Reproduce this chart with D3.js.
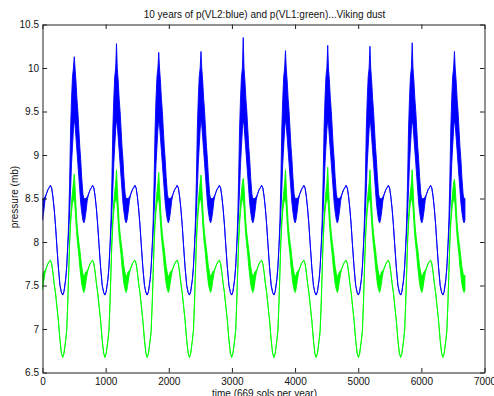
<!DOCTYPE html>
<html>
<head>
<meta charset="utf-8">
<script src="https://cdn.jsdelivr.net/npm/d3@7"></script>
<style>
  body { margin: 0; background: #fff; }
  svg { display: block; }
  text { font-family: "Liberation Sans", Arial, sans-serif; }
</style>
</head>
<body>
<svg id="chart" width="494" height="396"></svg>
<script>
// sols per Mars year and number of years plotted
const solsPerYear = 669
const nYears = 10

const phase = [0, 20, 40, 60, 85, 110, 125, 145, 165, 185, 205, 225, 251, 277, 300, 320, 340, 367, 383,
  400, 415, 430, 445, 460, 475, 490, 503, 515, 530, 545, 560, 575, 590, 605, 620, 640, 655]

// VL2 (blue): lower / upper edge of the trace (they differ where the daily noise makes it thick)
const blueLo = [8.25, 8.35, 8.48, 8.55, 8.6, 8.63, 8.65, 8.62, 8.52, 8.38, 8.2, 7.98, 7.71, 7.5, 7.42, 7.39, 7.43, 7.57, 7.71,
  7.95, 8.12, 8.35, 8.6, 8.9, 9.1, 9.3, 9.4, 9.35, 9.2, 9.05, 8.9, 8.75, 8.6, 8.45, 8.35, 8.25, 8.22]
const blueHi = [8.5, 8.5, 8.52, 8.55, 8.6, 8.63, 8.65, 8.62, 8.52, 8.38, 8.2, 7.98, 7.71, 7.5, 7.42, 7.39, 7.43, 7.57, 7.71,
  7.95, 8.25, 8.7, 9.3, 9.65, 9.9, 10.0, 10.1, 10.0, 9.85, 9.65, 9.5, 9.3, 9.1, 8.95, 8.75, 8.55, 8.5]

// VL1 (green)
const greenLo = [7.45, 7.55, 7.64, 7.7, 7.75, 7.78, 7.79, 7.75, 7.65, 7.52, 7.42, 7.28, 7.1, 6.87, 6.72, 6.675, 6.72, 6.87, 6.98,
  7.3, 7.65, 7.98, 8.2, 8.35, 8.45, 8.48, 8.5, 8.4, 8.22, 8.06, 7.95, 7.85, 7.72, 7.62, 7.52, 7.45, 7.42]
const greenHi = [7.62, 7.66, 7.67, 7.7, 7.75, 7.78, 7.79, 7.75, 7.65, 7.52, 7.42, 7.28, 7.1, 6.87, 6.72, 6.675, 6.72, 6.87, 6.98,
  7.3, 7.65, 8.04, 8.28, 8.46, 8.58, 8.68, 8.78, 8.64, 8.42, 8.22, 8.1, 8.0, 7.92, 7.82, 7.72, 7.64, 7.6]

// dust-season peak of each year
const peakIndex = 26
const bluePeak = [10.13, 10.28, 10.18, 10.19, 10.35, 10.2, 10.26, 10.25, 10.29, 10.19]
const greenPeak = [8.78, 8.83, 8.8, 8.77, 8.73, 8.83, 8.86, 8.83, 8.83, 8.72]

// axis ticks
const xTicks = [0, 1000, 2000, 3000, 4000, 5000, 6000, 7000]
const yTicks = [6.5, 7, 7.5, 8, 8.5, 9, 9.5, 10, 10.5]

const plotL = 42.5, plotR = 484.5, plotT = 24.5, plotB = 372.5

let svg = d3.select('#chart')
let x = d3.scaleLinear().domain([0, 7000]).range([plotL, plotR])
let y = d3.scaleLinear().domain([6.5, 10.5]).range([plotB, plotT])

function buildSeries (lo, hi, peaks) {
  let pts = []
  for (let yr = 0; yr < nYears; yr++) {
    phase.forEach((s, k) => {
      pts.push({
        t: yr * solsPerYear + s,
        lo: lo[k],
        hi: k === peakIndex ? peaks[yr] : hi[k]
      })
    })
  }
  // last sample closes the tenth year
  pts.push({ t: nYears * solsPerYear, lo: lo[0], hi: hi[0] })
  return pts
}

let blue = buildSeries(blueLo, blueHi, bluePeak)
let green = buildSeries(greenLo, greenHi, greenPeak)

svg.append('clipPath').attr('id', 'plot')
  .append('rect').attr('x', plotL).attr('y', plotT).attr('width', plotR - plotL).attr('height', plotB - plotT)

let band = d3.area()
  .x(d => x(d.t))
  .y0(d => y(d.lo))
  .y1(d => y(d.hi))

let lines = svg.append('g').attr('clip-path', 'url(#plot)')
lines.append('path').datum(blue)
  .attr('d', band)
  .attr('fill', '#0000ff')
  .attr('stroke', '#0000ff')
  .attr('stroke-width', 0.9)
  .attr('stroke-linejoin', 'round')
lines.append('path').datum(green)
  .attr('d', band)
  .attr('fill', '#00ff00')
  .attr('stroke', '#00ff00')
  .attr('stroke-width', 0.9)
  .attr('stroke-linejoin', 'round')

// axes, ticks pointing inwards on all four sides
let tick = 4.5
svg.append('g').attr('transform', 'translate(0,' + plotB + ')')
  .call(d3.axisBottom(x).tickValues(xTicks).tickSizeInner(-tick).tickSizeOuter(0).tickPadding(5.5).tickFormat(d3.format('d')))
svg.append('g').attr('transform', 'translate(' + plotL + ',0)')
  .call(d3.axisLeft(y).tickValues(yTicks).tickSizeInner(-tick).tickSizeOuter(0).tickPadding(3.5).tickFormat(d => String(d)))
svg.append('g').attr('transform', 'translate(0,' + plotT + ')')
  .call(d3.axisTop(x).tickValues(xTicks).tickSizeInner(-tick).tickSizeOuter(0).tickFormat(''))
svg.append('g').attr('transform', 'translate(' + plotR + ',0)')
  .call(d3.axisRight(y).tickValues(yTicks).tickSizeInner(-tick).tickSizeOuter(0).tickFormat(''))

svg.selectAll('.domain, .tick line').attr('stroke', '#222')
svg.selectAll('.tick text')
  .attr('font-family', '"Liberation Sans", Arial, sans-serif')
  .attr('font-size', 10)
  .attr('fill', '#111')

svg.append('text')
  .attr('x', (plotL + plotR) / 2 + 1)
  .attr('y', 18)
  .attr('text-anchor', 'middle')
  .attr('font-size', 10)
  .attr('fill', '#111')
  .text('10 years of p(VL2:blue) and p(VL1:green)...Viking dust')

svg.append('text')
  .attr('x', (plotL + plotR) / 2 + 1)
  .attr('y', 397)
  .attr('text-anchor', 'middle')
  .attr('font-size', 10)
  .attr('fill', '#111')
  .text('time (669 sols per year)')

svg.append('text')
  .attr('transform', 'translate(17.5,' + 197 + ') rotate(-90)')
  .attr('text-anchor', 'middle')
  .attr('font-size', 10)
  .attr('fill', '#111')
  .text('pressure (mb)')
</script>
</body>
</html>
